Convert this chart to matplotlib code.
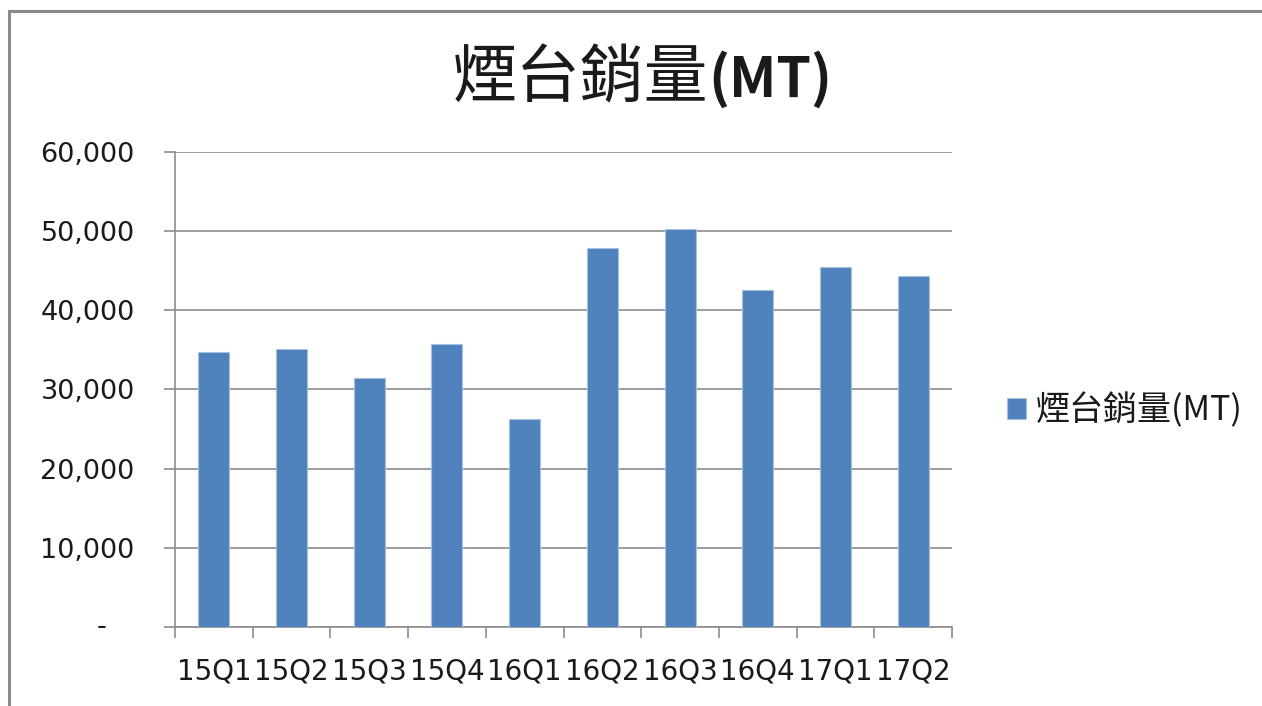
import matplotlib
matplotlib.use("Agg")
import matplotlib.pyplot as plt
from matplotlib.patches import Rectangle
from matplotlib.ticker import FixedLocator, FuncFormatter

categories = ["15Q1", "15Q2", "15Q3", "15Q4", "16Q1", "16Q2", "16Q3", "16Q4", "17Q1", "17Q2"]
sales = [34700, 35100, 31400, 35700, 26300, 47800, 50300, 42500, 45400, 44300]
series_name = "煙台銷量(MT)"
title_cjk = "煙台銷量"
title_latin = "(MT)"
yticks = [0, 10000, 20000, 30000, 40000, 50000, 60000]

W, H = 1262, 706
fig = plt.figure(figsize=(W / 100, H / 100), dpi=100)
fig.patch.set_facecolor("white")

# outer chart border (left and top visible)
fig.patches.append(Rectangle((8.5 / W, -0.2), 1.3, 1.2 - 11.0 / H,
                             transform=fig.transFigure, fill=False,
                             edgecolor="#8a8a8a", linewidth=2.2))

ax = fig.add_axes([175 / W, 1 - 627 / H, (952 - 175) / W, (627 - 151.7) / H])
x = list(range(len(categories)))
ax.bar(x, sales, width=0.4, color="#4F81BD", edgecolor="#A7C0DE", linewidth=0.8,
       zorder=3, label=series_name)

ax.set_xlim(-0.5, len(categories) - 0.5)
ax.set_ylim(0, 60000)

grid_c = "#8c8c8c"
ax.set_yticks(yticks)
ax.yaxis.grid(True, color=grid_c, linewidth=1.2, zorder=0)
ax.set_axisbelow(True)

def yfmt(v, pos):
    if v == 0:
        return ""
    return f"{int(v):,}"
ax.yaxis.set_major_formatter(FuncFormatter(yfmt))
ax.tick_params(axis="y", which="major", length=8, width=1.2, color=grid_c,
               direction="out", pad=21, labelsize=19.5, labelcolor="#1a1a1a")
ax.annotate("-", xy=(0, 0), xycoords=("axes fraction", "data"),
            xytext=(-53, 0), textcoords="offset points", ha="center", va="center",
            fontsize=19.5, color="#1a1a1a")

ax.set_xticks(x)
ax.set_xticklabels(categories)
ax.xaxis.set_minor_locator(FixedLocator([i - 0.5 for i in range(len(categories) + 1)]))
ax.tick_params(axis="x", which="major", length=0, pad=22, labelsize=20, labelcolor="#1a1a1a")
ax.tick_params(axis="x", which="minor", length=8, width=1.2, color=grid_c, direction="out")

for s in ["top", "right"]:
    ax.spines[s].set_visible(False)
for s in ["left", "bottom"]:
    ax.spines[s].set_color(grid_c)
    ax.spines[s].set_linewidth(1.2)

# title: CJK part regular, latin part bold
split_x = 708 / W
base_y = 1 - 97 / H
fig.text(split_x, base_y, title_cjk, ha="right", va="baseline", fontsize=46,
         family=["Noto Sans CJK TC", "DejaVu Sans"], color="#1a1a1a")
fig.text(split_x, base_y, title_latin, ha="left", va="baseline", fontsize=40,
         family=["Noto Sans CJK TC", "DejaVu Sans"], fontweight="bold", color="#1a1a1a")

leg = fig.legend(loc="center left", bbox_to_anchor=(1007 / W, 1 - 411 / H),
                 frameon=False, handlelength=0.55, handleheight=0.55,
                 handletextpad=0.3, borderaxespad=0, borderpad=0,
                 prop={"family": ["Noto Sans CJK TC", "DejaVu Sans"], "size": 24.5})
for t in leg.get_texts():
    t.set_color("#1a1a1a")

fig.savefig("out.png", dpi=100)
